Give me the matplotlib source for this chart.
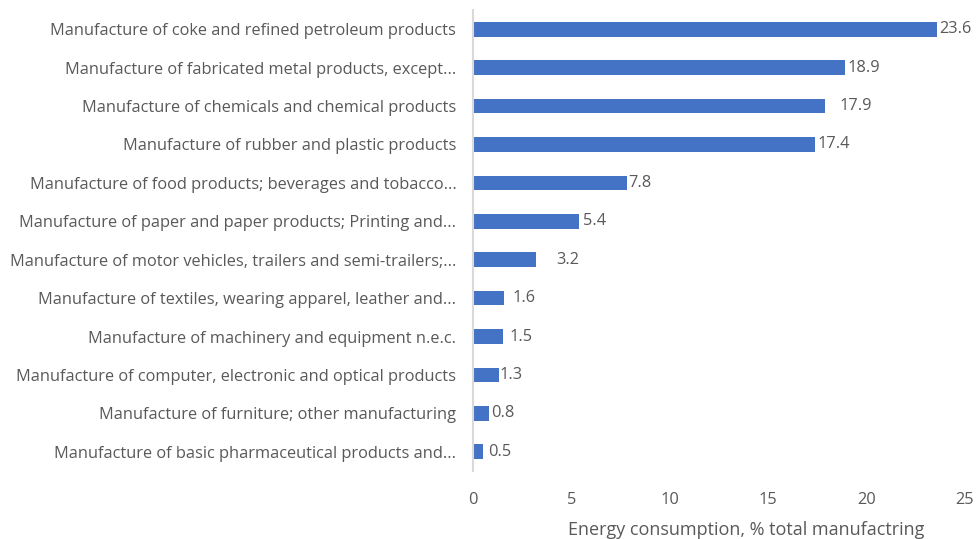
import matplotlib.pyplot as plt

# energy use by manufacturing branch, % of total manufacturing
sectors = [
    "Manufacture of coke and refined petroleum products",
    "Manufacture of fabricated metal products, except...",
    "Manufacture of chemicals and chemical products",
    "Manufacture of rubber and plastic products",
    "Manufacture of food products; beverages and tobacco...",
    "Manufacture of paper and paper products; Printing and...",
    "Manufacture of motor vehicles, trailers and semi-trailers;...",
    "Manufacture of textiles, wearing apparel, leather and...",
    "Manufacture of machinery and equipment n.e.c.",
    "Manufacture of computer, electronic and optical products",
    "Manufacture of furniture; other manufacturing",
    "Manufacture of basic pharmaceutical products and...",
]
share = [23.6, 18.9, 17.9, 17.4, 7.8, 5.4, 3.2, 1.6, 1.5, 1.3, 0.8, 0.5]
# gap between bar end and its label, in points
label_gap = [1.5, 2, 10, 1.5, 1, 3, 15, 6, 5, 1, 1.5, 4]

plt.rcParams['font.family'] = ['Open Sans', 'DejaVu Sans']
grey = '#595959'

fig = plt.figure(figsize=(9.78, 5.39), dpi=100)
ax = fig.add_axes([473 / 978, 1 - 471 / 539, (965 - 473) / 978, (471 - 10) / 539])

ypos = list(range(len(sectors)))
ax.barh(ypos, share, height=0.38, color='#4472C4')
ax.set_ylim(len(sectors) - 0.5, -0.5)
ax.set_xlim(0, 25)
ax.set_xticks([0, 5, 10, 15, 20, 25])
ax.set_yticks(ypos)
ax.set_yticklabels(sectors)

for y, v, g in zip(ypos, share, label_gap):
    ax.annotate(f"{v:.1f}", (v, y), xytext=(g, 0), textcoords='offset points',
                va='center', ha='left', fontsize=11.8, color=grey)

for s in ['top', 'right', 'bottom']:
    ax.spines[s].set_visible(False)
ax.spines['left'].set_color('#d9d9d9')
ax.spines['left'].set_linewidth(1.5)
ax.tick_params(axis='x', length=0, labelsize=11.8, colors=grey, pad=15)
ax.tick_params(axis='y', length=0, labelsize=11.8, colors=grey, pad=12)
ax.set_xlabel("Energy consumption, % total manufactring", fontsize=13,
              color=grey)
ax.xaxis.set_label_coords(0.555, -0.109)

fig.savefig('out.png', dpi=100)
